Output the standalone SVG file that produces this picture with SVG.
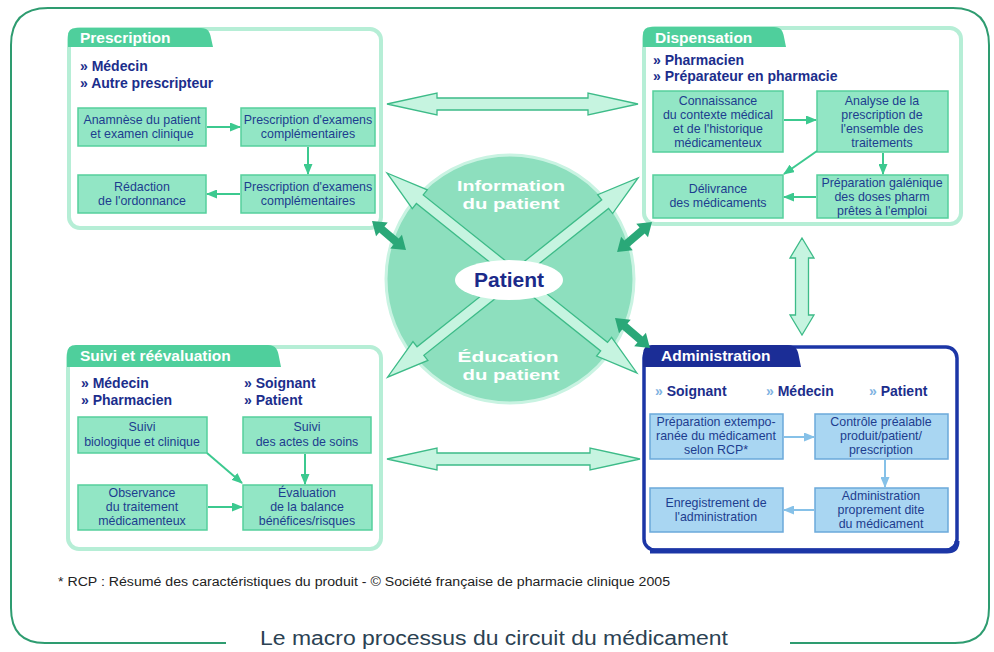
<svg xmlns="http://www.w3.org/2000/svg" width="994" height="652" viewBox="0 0 994 652">
<defs>
<marker id="ag" markerUnits="userSpaceOnUse" markerWidth="11" markerHeight="9" refX="10" refY="4.5" orient="auto"><path d="M0,0 L11,4.5 L0,9 Z" fill="#3cc98f"/></marker>
<marker id="ab" markerUnits="userSpaceOnUse" markerWidth="11" markerHeight="9" refX="10" refY="4.5" orient="auto"><path d="M0,0 L11,4.5 L0,9 Z" fill="#86c1e8"/></marker>
<style>
text{font-family:"Liberation Sans",Arial,sans-serif}
.frame{fill:none;stroke:#2e9c70;stroke-width:2}
.panel{fill:#fff;stroke:#b6eed6;stroke-width:4}
.panelA{fill:#fff;stroke:#1c36a6;stroke-width:3.5}
.tab{fill:#4fcf9c}
.tabA{fill:#1b2d96}
.title{font-size:15.5px;font-weight:bold;fill:#fff}
.role{font-size:14px;font-weight:bold;fill:#1b2e8c}
.roleA{font-size:14px;font-weight:bold;fill:#1b2e8c}
.q{fill:#7fb3e2}
.box{fill:#92e6c5;stroke:#55cf9c;stroke-width:1.5}
.boxA{fill:#a9d6f2;stroke:#6ba9da;stroke-width:1.5}
.bt{font-size:12.4px;fill:#1d3d8f;text-anchor:middle}
.ar{fill:none;stroke:#3cc98f;stroke-width:2;marker-end:url(#ag)}
.arB{fill:none;stroke:#86c1e8;stroke-width:2;marker-end:url(#ab)}
.big{fill:#c6f4e0;stroke:#3dbb88;stroke-width:1.3}
.dk{fill:#2aa878}
.ct{font-size:15.5px;font-weight:bold;fill:#fff;text-anchor:middle}
</style>
</defs>
<rect width="994" height="652" fill="#fff"/>
<path class="frame" d="M226,643 H45 Q11,643 11,608 V45 Q11,8 48,8 H953 Q989,8 989,45 V608 Q989,643 955,643 H790"/>

<g id="center">
<circle cx="510" cy="279" r="124" fill="#8ddfbe" stroke="#c9f3e2" stroke-width="3"/>
</g>

<g id="connectors">
<polygon class="big" transform="translate(387,104)" points="0,0 50,-11 50,-6 201,-6 201,-11 251,0 201,11 201,6 50,6 50,11"/>
<polygon class="big" transform="translate(387,459)" points="0,0 50,-11 50,-6 203,-6 203,-11 253,0 203,11 203,6 50,6 50,11"/>
<polygon class="big" transform="translate(802,238) rotate(90)" points="0,0 20,-12 20,-6.5 77,-6.5 77,-12 97,0 77,12 77,6.5 20,6.5 20,12"/>
<polygon class="big" transform="translate(387,173) rotate(38.66)" points="0,0 42,-12 42,-5.5 278,-5.5 278,-12 320,0 278,12 278,5.5 42,5.5 42,12"/>
<polygon class="big" transform="translate(638,178) rotate(141.5)" points="0,0 42,-12 42,-5.5 278,-5.5 278,-12 320,0 278,12 278,5.5 42,5.5 42,12"/>
</g>

<g id="patient">
<ellipse cx="509" cy="280" rx="54" ry="20" fill="#fff"/>
<text x="509" y="287" font-size="21" font-weight="bold" fill="#1b2a8a" text-anchor="middle">Patient</text>
<text class="ct" x="511" y="191" textLength="108" lengthAdjust="spacingAndGlyphs">Information</text>
<text class="ct" x="511" y="209" textLength="97" lengthAdjust="spacingAndGlyphs">du patient</text>
<text class="ct" x="508" y="362" textLength="101" lengthAdjust="spacingAndGlyphs">Éducation</text>
<text class="ct" x="511" y="380" textLength="97" lengthAdjust="spacingAndGlyphs">du patient</text>
</g>

<g id="prescription">
<rect class="panel" x="69" y="29" width="312" height="199" rx="11"/>
<path class="tab" d="M68,47 V36 Q68,28 76,28 H201 C208,28 210,32 211,38 L213,47 Z"/>
<text class="title" x="80" y="43">Prescription</text>
<text class="role" x="80" y="71">» Médecin</text>
<text class="role" x="80" y="88">» Autre prescripteur</text>
<rect class="box" x="78" y="108" width="128" height="38"/>
<text class="bt" x="142" y="124">Anamnèse du patient</text>
<text class="bt" x="142" y="138">et examen clinique</text>
<rect class="box" x="241" y="108" width="134" height="38"/>
<text class="bt" x="308" y="124">Prescription d'examens</text>
<text class="bt" x="308" y="138">complémentaires</text>
<rect class="box" x="241" y="175" width="134" height="38"/>
<text class="bt" x="308" y="191">Prescription d'examens</text>
<text class="bt" x="308" y="205">complémentaires</text>
<rect class="box" x="78" y="175" width="128" height="38"/>
<text class="bt" x="142" y="191">Rédaction</text>
<text class="bt" x="142" y="205">de l'ordonnance</text>
<line class="ar" x1="207" y1="127" x2="240" y2="127"/>
<line class="ar" x1="308" y1="147" x2="308" y2="174"/>
<line class="ar" x1="240" y1="194" x2="207" y2="194"/>
</g>

<g id="dispensation">
<rect class="panel" x="644" y="28" width="317" height="196" rx="11"/>
<path class="tab" d="M643,47 V35 Q643,27 651,27 H774 C781,27 783,31 784,37 L786,47 Z"/>
<text class="title" x="655" y="43">Dispensation</text>
<text class="role" x="653" y="65">» Pharmacien</text>
<text class="role" x="653" y="81">» Préparateur en pharmacie</text>
<rect class="box" x="653" y="91" width="130" height="61"/>
<text class="bt" x="718" y="105">Connaissance</text>
<text class="bt" x="718" y="119">du contexte médical</text>
<text class="bt" x="718" y="133">et de l'historique</text>
<text class="bt" x="718" y="147">médicamenteux</text>
<rect class="box" x="817" y="91" width="131" height="61"/>
<text class="bt" x="882" y="105">Analyse de la</text>
<text class="bt" x="882" y="119">prescription de</text>
<text class="bt" x="882" y="133">l'ensemble des</text>
<text class="bt" x="882" y="147">traitements</text>
<rect class="box" x="817" y="175" width="131" height="43"/>
<text class="bt" x="882" y="187">Préparation galénique</text>
<text class="bt" x="882" y="201">des doses pharm</text>
<text class="bt" x="882" y="215">prêtes à l'emploi</text>
<rect class="box" x="653" y="175" width="130" height="43"/>
<text class="bt" x="718" y="193">Délivrance</text>
<text class="bt" x="718" y="207">des médicaments</text>
<line class="ar" x1="784" y1="120" x2="816" y2="120"/>
<line class="ar" x1="817" y1="151" x2="784" y2="174"/>
<line class="ar" x1="883" y1="153" x2="883" y2="174"/>
<line class="ar" x1="816" y1="197" x2="784" y2="197"/>
</g>

<g id="suivi">
<rect class="panel" x="68" y="347" width="313" height="202" rx="11"/>
<path class="tab" d="M67,367 V354 Q67,345 76,345 H268 C276,345 278,350 279,357 L281,367 Z"/>
<text class="title" x="80" y="361">Suivi et réévaluation</text>
<text class="role" x="81" y="388">» Médecin</text>
<text class="role" x="81" y="405">» Pharmacien</text>
<text class="role" x="244" y="388">» Soignant</text>
<text class="role" x="244" y="405">» Patient</text>
<rect class="box" x="78" y="417" width="129" height="36"/>
<text class="bt" x="142" y="431">Suivi</text>
<text class="bt" x="142" y="446">biologique et clinique</text>
<rect class="box" x="243" y="417" width="128" height="36"/>
<text class="bt" x="307" y="431">Suivi</text>
<text class="bt" x="307" y="446">des actes de soins</text>
<rect class="box" x="78" y="485" width="129" height="45"/>
<text class="bt" x="142" y="497">Observance</text>
<text class="bt" x="142" y="511">du traitement</text>
<text class="bt" x="142" y="525">médicamenteux</text>
<rect class="box" x="243" y="485" width="129" height="45"/>
<text class="bt" x="307" y="497">Évaluation</text>
<text class="bt" x="307" y="511">de la balance</text>
<text class="bt" x="307" y="525">bénéfices/risques</text>
<line class="ar" x1="207" y1="453" x2="242" y2="483"/>
<line class="ar" x1="305" y1="454" x2="305" y2="484"/>
<line class="ar" x1="208" y1="507" x2="242" y2="507"/>
</g>

<g id="administration">
<rect class="panelA" x="644" y="347" width="313" height="203" rx="11"/>
<path d="M650,551 H947 Q957,551 957,541" fill="none" stroke="#1c36a6" stroke-width="5"/>
<path class="tabA" d="M643,367 V354 Q643,345 652,345 H788 C796,345 798,350 799,357 L801,367 Z"/>
<text class="title" x="661" y="361">Administration</text>
<text class="roleA" x="655" y="396"><tspan class="q">»</tspan> Soignant</text>
<text class="roleA" x="766" y="396"><tspan class="q">»</tspan> Médecin</text>
<text class="roleA" x="869" y="396"><tspan class="q">»</tspan> Patient</text>
<rect class="boxA" x="650" y="414" width="133" height="45"/>
<text class="bt" x="716" y="426">Préparation extempo-</text>
<text class="bt" x="716" y="440">ranée du médicament</text>
<text class="bt" x="716" y="454">selon RCP*</text>
<rect class="boxA" x="815" y="414" width="133" height="45"/>
<text class="bt" x="881" y="426">Contrôle préalable</text>
<text class="bt" x="881" y="440">produit/patient/</text>
<text class="bt" x="881" y="454">prescription</text>
<rect class="boxA" x="815" y="488" width="133" height="44"/>
<text class="bt" x="881" y="500">Administration</text>
<text class="bt" x="881" y="514">proprement dite</text>
<text class="bt" x="881" y="528">du médicament</text>
<rect class="boxA" x="650" y="488" width="133" height="44"/>
<text class="bt" x="716" y="507">Enregistrement de</text>
<text class="bt" x="716" y="521">l'administration</text>
<line class="arB" x1="784" y1="437" x2="814" y2="437"/>
<line class="arB" x1="885" y1="460" x2="885" y2="487"/>
<line class="arB" x1="814" y1="510" x2="784" y2="510"/>
</g>

<g id="links">
<polygon class="dk" transform="translate(372,221) rotate(40.5)" points="0,0 13,-9 13,-4 31.7,-4 31.7,-9 44.7,0 31.7,9 31.7,4 13,4 13,9"/>
<polygon class="dk" transform="translate(652,222) rotate(139.4)" points="0,0 13,-9 13,-4 33,-4 33,-9 46,0 33,9 33,4 13,4 13,9"/>
<polygon class="dk" transform="translate(615,318) rotate(40.6)" points="0,0 13,-9 13,-4 33,-4 33,-9 46,0 33,9 33,4 13,4 13,9"/>
</g>

<text x="58" y="586" font-size="12" fill="#222" textLength="612" lengthAdjust="spacingAndGlyphs">* RCP : Résumé des caractéristiques du produit  - © Société française de pharmacie clinique 2005</text>
<text x="494" y="645" font-size="20" fill="#2b4253" text-anchor="middle" textLength="468" lengthAdjust="spacingAndGlyphs">Le macro processus du circuit du médicament</text>
</svg>
